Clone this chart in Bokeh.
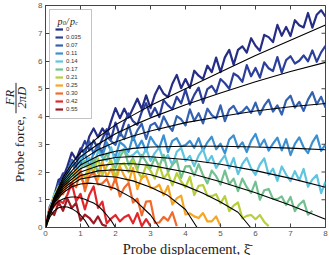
from bokeh.plotting import figure
from bokeh.models import Range1d, Legend, LegendItem, Label, Arrow, FixedTicker
from bokeh.layouts import row, column
from bokeh.embed import file_html
from bokeh.resources import INLINE
import math

LEVELS = ["0", "0.035", "0.07", "0.11", "0.14", "0.17", "0.21", "0.25", "0.30", "0.42", "0.55"]
COLORS = ["#262d84", "#2c3f9a", "#3461b0", "#3a90d2", "#5ec4df", "#73c190",
          "#b6cf3b", "#f6a623", "#f06a2b", "#e2262a", "#9d1b24"]
TICKS = [0, 1, 2, 3, 4, 5, 6, 7, 8]
EDGE = [8, 8, 8, 8, 8, 8, 8, 8, 8]

XI = [0, 0.125, 0.25, 0.375, 0.5, 0.625, 0.75, 0.875, 1.0, 1.125, 1.25, 1.375, 1.5,
      1.625, 1.75, 1.875, 2.0, 2.125, 2.25, 2.375, 2.5, 2.625, 2.75, 2.875, 3.0,
      3.125, 3.25, 3.375, 3.5, 3.625, 3.75, 3.875, 4.0, 4.125, 4.25, 4.375, 4.5,
      4.625, 4.75, 4.875, 5.0, 5.125, 5.25, 5.375, 5.5, 5.625, 5.75, 5.875, 6.0,
      6.125, 6.25, 6.375, 6.5, 6.625, 6.75, 6.875, 7.0, 7.125, 7.25, 7.375, 7.5,
      7.625, 7.75, 7.875, 8.0]

# measured probe force (noisy traces)
D0 = [0, .67, 1.15, 1.72, 1.8, 2.2, 2.7, 2.45, 2.85, 2.65, 3.28, 3.57, 3.25, 3.57, 3.33, 3.84,
      4.3, 3.94, 4.28, 3.96, 4.3, 4.64, 4.27, 4.76, 4.3, 4.78, 5.1, 4.82, 4.7, 5.18, 5.5, 5.02,
      5.35, 5.03, 5.65, 5.47, 5.35, 5.83, 5.6, 6.12, 5.6, 6.13, 6.4, 5.87, 6.4, 6.53, 6.3, 6.82,
      6.55, 6.37, 6.94, 6.86, 6.68, 7.3, 6.91, 7.23, 6.9, 7.47, 7.29, 7.21, 7.73, 7.2, 7.67, 7.83, 7.6]
D1 = [0, .66, .98, 1.6, 1.95, 1.95, 2.33, 2.17, 2.75, 3.12, 2.78, 3.14, 2.85, 3.2, 3.54, 3.19,
      3.78, 3.31, 3.78, 4.11, 3.83, 3.7, 4.17, 4.48, 4.0, 4.31, 3.98, 4.59, 4.4, 4.26, 4.71, 4.47,
      4.97, 4.43, 4.78, 5.04, 4.49, 4.99, 5.1, 4.85, 5.35, 5.2, 5.0, 5.55, 5.45, 5.25, 5.85, 5.45,
      5.75, 5.4, 5.95, 5.74, 5.64, 6.14, 5.58, 6.03, 6.17, 5.91, 6.01, 6.2, 5.99, 6.38, 5.97, 6.31, 6.55]
D2 = [0, .77, 1.03, 1.58, 1.55, 1.95, 2.44, 2.27, 2.25, 2.75, 3.1, 2.65, 3.0, 2.67, 3.29, 3.11,
      2.98, 3.44, 3.19, 3.7, 3.15, 3.5, 3.74, 3.19, 3.68, 3.77, 3.51, 4.0, 3.69, 3.48, 4.01, 3.9,
      3.68, 4.26, 3.84, 4.12, 3.75, 4.28, 4.05, 3.93, 4.4, 3.83, 4.25, 4.38, 4.1, 4.18, 4.35, 4.13,
      4.5, 4.07, 4.39, 4.61, 4.18, 4.4, 4.07, 4.58, 4.75, 4.32, 4.53, 4.2, 4.61, 4.88, 4.44, 4.71, 4.32]
D3 = [0, .75, 1.1, 1.33, 1.76, 1.79, 2.38, 1.94, 2.4, 2.69, 2.17, 2.7, 2.83, 2.57, 3.07, 2.76,
      2.55, 3.08, 2.95, 2.73, 3.3, 2.86, 3.13, 2.74, 3.27, 3.02, 2.87, 3.32, 2.72, 3.12, 3.22, 2.92,
      2.97, 3.12, 2.87, 3.22, 2.77, 3.07, 3.27, 2.82, 3.02, 2.67, 3.17, 3.32, 2.87, 3.07, 2.72, 3.12,
      3.37, 2.92, 3.17, 2.77, 3.02, 3.24, 2.78, 3.18, 2.61, 3.01, 3.25, 2.89, 2.68, 3.07, 3.32, 2.76, 3.0]
D4 = [0, .53, 1.23, 1.35, 1.45, 1.86, 1.98, 1.88, 2.57, 2.19, 2.51, 2.18, 2.75, 2.53, 2.41, 2.89,
      2.32, 2.73, 2.84, 2.55, 2.61, 2.76, 2.51, 2.85, 2.4, 2.69, 2.88, 2.42, 2.61, 2.25, 2.73, 2.87,
      2.4, 2.58, 2.21, 2.59, 2.82, 2.35, 2.58, 2.15, 2.38, 2.6, 2.13, 2.5, 1.92, 2.29, 2.51, 2.13,
      1.9, 2.27, 2.49, 1.9, 2.12, 1.68, 2.2, 1.91, 1.67, 2.03, 1.7, 2.11, 1.47, 1.73, 1.89, 1.24, 1.65]
D5 = [0, .62, .91, 1.4, 1.72, 1.64, 1.99, 1.72, 2.1, 2.41, 2.01, 2.47, 1.97, 2.39, 2.66, 2.33,
      2.15, 2.55, 2.8, 2.25, 2.5, 2.09, 2.62, 2.36, 2.14, 2.52, 2.19, 2.62, 1.99, 2.26, 2.42, 1.79,
      2.2, 2.21, 1.87, 2.28, 1.89, 1.59, 2.05, 1.85, 1.55, 2.05, 1.56, 1.76, 1.31, 1.76, 1.45, 1.25,
      1.65, 1.0, 1.34, 1.39, 1.03, 1.02, 1.12, .81, 1.1, .59, .83, .97, .46, .6]
D6 = [0, .46, 1.1, 1.49, 1.4, 1.65, 1.44, 2.11, 1.97, 1.81, 2.26, 2.0, 2.49, 1.9, 2.21, 2.42,
      1.83, 2.27, 2.31, 1.99, 2.43, 2.05, 1.77, 2.23, 2.05, 1.76, 2.26, 1.77, 1.97, 1.52, 1.96, 1.66,
      1.45, 1.83, 1.17, 1.5, 1.53, 1.15, 1.13, 1.2, .87, 1.13, .59, .79, .9, .33, .42, .45, .3, .45, .2, .05]
D7 = [0, .6, 1.12, 1.06, 1.46, 1.59, 1.48, 2.12, 1.8, 1.53, 2.16, 2.01, 1.73, 2.38, 1.83, 2.12,
      1.63, 2.2, 1.86, 1.65, 2.15, 1.38, 1.8, 1.86, 1.44, 1.43, 1.54, 1.16, 1.5, .83, 1.05, 1.15,
      .47, .51, .4, .34, .52, .22, .22, .4, .05]
D8 = [0, .73, .9, 1.23, 1.2, 1.57, 1.59, 1.45, 2.07, 1.31, 1.85, 1.97, 1.55, 1.59, 1.75, 1.37,
      1.78, 1.12, 1.43, 1.6, .9, 1.04, .44, .93, .95, .17, .18, .38, .25, .55, .05]
D9 = [0, .62, .77, .98, .88, 1.18, 1.6, .95, 1.21, .65, 1.17, 1.48, .71, .93, .15, .32, .45, .22,
      .37, .45, .15, .52, .05, .3, .05]
D10 = [0, .6, .45, .91, .6, 1.04, .7, .88, .25, .46, .35, .15, .4, .1, .05]
DATA = [D0, D1, D2, D3, D4, D5, D6, D7, D8, D9, D10]

# model fits (black curves)
FX_A = [0, .1, .25, .5, .75, 1, 1.5, 2, 2.5, 3, 4, 5, 6, 7, 8]
F0 = [0, .55, 1.1, 1.8, 2.3, 2.7, 3.25, 3.7, 4.05, 4.4, 5.0, 5.6, 6.2, 6.75, 7.3]
F1 = [0, .55, 1.08, 1.72, 2.18, 2.55, 3.0, 3.38, 3.68, 3.95, 4.42, 4.85, 5.25, 5.62, 5.95]
F2 = [0, .54, 1.05, 1.65, 2.04, 2.4, 2.8, 3.08, 3.3, 3.48, 3.78, 4.0, 4.2, 4.35, 4.47]
F3 = [0, .53, 1.02, 1.58, 1.93, 2.25, 2.58, 2.75, 2.85, 2.9, 2.93, 2.93, 2.9, 2.86, 2.8]
F4 = [0, .52, 1.0, 1.52, 1.83, 2.12, 2.4, 2.52, 2.56, 2.55, 2.45, 2.28, 2.05, 1.77, 1.45]
F5 = [0, .51, .98, 1.47, 1.74, 2.0, 2.22, 2.3, 2.3, 2.24, 2.0, 1.65, 1.25, .8, .3]
FX6 = [0, .1, .25, .5, .75, 1, 1.5, 2, 2.5, 3, 3.5, 4, 4.5, 5, 5.5, 5.86]
F6 = [0, .5, .95, 1.4, 1.64, 1.87, 2.04, 2.08, 2.03, 1.9, 1.72, 1.5, 1.23, .92, .55, 0]
FX7 = [0, .1, .25, .5, .75, 1, 1.5, 2, 2.5, 3, 3.5, 4, 4.33]
F7 = [0, .49, .92, 1.33, 1.55, 1.75, 1.86, 1.82, 1.68, 1.45, 1.15, .65, 0]
FX8 = [0, .1, .25, .5, .75, 1, 1.25, 1.5, 2, 2.5, 3, 3.25]
F8 = [0, .47, .88, 1.25, 1.47, 1.57, 1.6, 1.57, 1.4, 1.05, .45, 0]
FX9 = [0, .125, .25, .375, .5, .625, .75, .875, 1, 1.125, 1.25, 1.375, 1.5, 1.625, 1.75, 1.875, 2.0]
F9 = [0, .45, .8, .95, 1.03, 1.08, 1.1, 1.1, 1.06, 1.02, .95, .88, .78, .63, .45, .25, 0]
FX10 = [0, .125, .25, .375, .5, .625, .75, .875, 1, 1.125, 1.25]
F10 = [0, .38, .6, .71, .75, .74, .68, .58, .45, .26, 0]
FITS = [(FX_A, F0), (FX_A, F1), (FX_A, F2), (FX_A, F3), (FX_A, F4), (FX_A, F5),
        (FX6, F6), (FX7, F7), (FX8, F8), (FX9, F9), (FX10, F10)]

SERIF = "Liberation Serif"
INK = "#222222"
AXC = "#444444"

# ---------------- main plot ----------------
p = figure(width=301, height=241, x_range=Range1d(0, 8), y_range=Range1d(0, 8),
           output_backend="svg", toolbar_location=None, title=None,
           min_border_left=17, min_border_right=4, min_border_top=5, min_border_bottom=14)
p.grid.visible = False
p.outline_line_color = AXC
p.background_fill_color = "white"
p.border_fill_color = "white"

for ax in (p.xaxis[0], p.yaxis[0]):
    ax.ticker = FixedTicker(ticks=TICKS)
    ax.major_tick_in = 4
    ax.major_tick_out = 0
    ax.minor_tick_in = 0
    ax.minor_tick_out = 0
    ax.axis_line_color = AXC
    ax.major_tick_line_color = AXC
    ax.major_label_text_font = "Liberation Sans"
    ax.major_label_text_font_size = "8px"
    ax.major_label_text_color = "#555555"
    ax.major_label_standoff = 3

renderers = []
for vals, col in zip(DATA, COLORS):
    r = p.line(XI[:len(vals)], vals, line_color=col, line_width=2.2, line_join="round")
    renderers.append(r)
for fx, fy in FITS:
    p.line(fx, fy, line_color="black", line_width=1.1)

# inward ticks on the top and right edges of the box
p.scatter(TICKS, EDGE, marker="dash", size=8, angle=math.pi / 2, line_color=AXC, line_width=1)
p.scatter(EDGE, TICKS, marker="dash", size=8, line_color=AXC, line_width=1)

legend = Legend(items=[LegendItem(label=lab, renderers=[r]) for lab, r in zip(LEVELS, renderers)],
                location="top_left", margin=4, padding=5, spacing=0,
                label_height=8, glyph_height=8, glyph_width=8, label_standoff=3,
                label_text_font="Liberation Sans", label_text_font_size="6px",
                label_text_color="#333333",
                border_line_color="#888888", background_fill_alpha=0.0,
                title=" ", title_text_font_size="8px", title_standoff=1)
p.add_layout(legend)


def px(xp):
    return (xp - 45) / 35.0


def py(yp):
    return (227 - yp) / 27.75


for txt, xp, yp, size in [("p", 57, 20.5, "10px"), ("0", 62.3, 22.5, "6px"), ("/", 65.5, 20.5, "10px"),
                          ("p", 69.5, 20.5, "10px"), ("c", 74.8, 22.5, "6px")]:
    p.add_layout(Label(x=px(xp), y=py(yp), text=txt, text_font=SERIF, text_font_size=size,
                       text_font_style="italic", text_color=INK,
                       text_baseline="alphabetic", text_align="left"))

# ---------------- y-axis title panel ----------------
yl = figure(width=28, height=241, x_range=Range1d(0, 28), y_range=Range1d(241, 0),
            x_axis_type=None, y_axis_type=None, output_backend="svg", toolbar_location=None,
            title=None, min_border=0, outline_line_color=None)
yl.grid.visible = False
yl.add_layout(Label(x=19, y=156, text="Probe force,", angle=math.pi / 2,
                    text_font=SERIF, text_font_size="13.5px", text_color=INK,
                    text_align="center", text_baseline="middle"))
yl.add_layout(Label(x=9, y=100, text="FR", angle=math.pi / 2,
                    text_font=SERIF, text_font_size="12.5px", text_font_style="italic",
                    text_color=INK, text_align="center", text_baseline="middle"))
yl.add_layout(Label(x=21.5, y=100, text="2\u03c0D", angle=math.pi / 2,
                    text_font=SERIF, text_font_size="12.5px", text_font_style="italic",
                    text_color=INK, text_align="center", text_baseline="middle"))
yl.add_layout(Arrow(x_start=15.5, y_start=84, x_end=15.5, y_end=117,
                    start=None, end=None, line_color=INK, line_width=1))

# ---------------- x-axis title panel ----------------
xl = figure(width=329, height=14, x_range=Range1d(0, 329), y_range=Range1d(14, 0),
            x_axis_type=None, y_axis_type=None, output_backend="svg", toolbar_location=None,
            title=None, min_border=0, outline_line_color=None)
xl.grid.visible = False
xl.add_layout(Label(x=186, y=7, text="Probe displacement, \u03be\u0304",
                    text_font=SERIF, text_font_size="14.5px", text_color=INK,
                    text_align="center", text_baseline="middle"))

layout = column(row(yl, p, spacing=0), xl, spacing=0)
open("out.html", "w").write(file_html(layout, INLINE))
